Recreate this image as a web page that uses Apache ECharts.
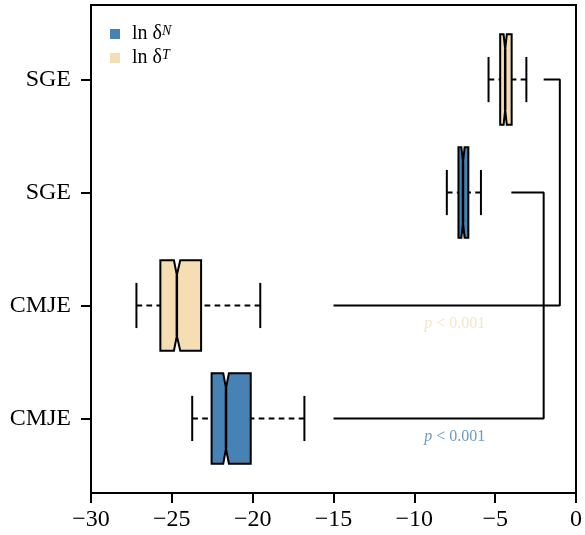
<!DOCTYPE html>
<html>
<head>
<meta charset="utf-8">
<script src="https://cdn.jsdelivr.net/npm/echarts@6/dist/echarts.min.js"></script>
<style>
html, body { margin: 0; padding: 0; background: #fff; }
#main { width: 585px; height: 535px; }
</style>
</head>
<body>
<div id="main"></div>
<script>
// rows from bottom (1) to top (4)
const rowLabels = ['CMJE', 'CMJE', 'SGE', 'SGE'];
const rowTicks = [1, 2, 3, 4];

// [row, lower whisker, Q1, median, Q3, upper whisker, notch low, notch high]
const statsN = [
  [1, -23.74, -22.54, -21.65, -20.12, -16.80, -21.82, -21.47],
  [3, -7.99, -7.27, -6.99, -6.66, -5.88, -7.09, -6.89]
];
const statsT = [
  [2, -27.19, -25.71, -24.69, -23.19, -19.53, -24.87, -24.48],
  [4, -5.41, -4.69, -4.38, -3.98, -3.07, -4.48, -4.28]
];

// comparison brackets [x, row]
const bracketN = [[-4, 3], [-2, 3], [-2, 1], [-15, 1]];
const bracketT = [[-2, 4], [-1, 4], [-1, 2], [-15, 2]];
const pText = ['p < 0.001', 'p < 0.001']; // N, T

const BLUE = '#4682B4';
const TAN = '#F5DEB3';
const FONT = '"Liberation Serif", "Times New Roman", serif';

function renderBox(params, api) {
  const row = api.value(0);
  const xs = [1, 2, 3, 4, 5, 6, 7].map(i => api.coord([api.value(i), row])[0]);
  const [xLow, xQ1, xMed, xQ3, xHigh, xN1, xN2] = xs;
  const cy = api.coord([0, row])[1];
  const halfH = api.size([0, 0.4])[1];
  const capH = api.size([0, 0.2])[1];
  const notch = halfH * 0.33;
  const top = cy - halfH, bot = cy + halfH;
  const dash = { stroke: '#000', lineWidth: 2, lineDash: [5.7, 4.3] };
  const solid = { stroke: '#000', lineWidth: 2 };
  return {
    type: 'group',
    children: [
      { type: 'line', shape: { x1: xLow, y1: cy, x2: xQ1, y2: cy }, style: dash },
      { type: 'line', shape: { x1: xHigh, y1: cy, x2: xQ3, y2: cy }, style: dash },
      { type: 'line', shape: { x1: xLow, y1: cy - capH, x2: xLow, y2: cy + capH }, style: solid },
      { type: 'line', shape: { x1: xHigh, y1: cy - capH, x2: xHigh, y2: cy + capH }, style: solid },
      {
        type: 'polygon',
        shape: {
          points: [
            [xQ1, top], [xN1, top], [xMed, top + notch], [xN2, top], [xQ3, top],
            [xQ3, bot], [xN2, bot], [xMed, bot - notch], [xN1, bot], [xQ1, bot]
          ]
        },
        style: { fill: api.visual('color'), stroke: '#000', lineWidth: 2 }
      },
      { type: 'line', shape: { x1: xMed, y1: top + notch, x2: xMed, y2: bot - notch }, style: { stroke: '#000', lineWidth: 2.5 } }
    ]
  };
}

function pLabel(bracket, text, color) {
  return {
    type: 'scatter',
    silent: true,
    symbolSize: 0,
    data: [[bracket[3][0] / 2, bracket[3][1] - 0.165]],
    label: {
      show: true,
      position: 'inside',
      formatter: '{i|p}{r|' + text.slice(1) + '}',
      rich: {
        i: { fontFamily: FONT, fontSize: 16, fontStyle: 'italic', color: color },
        r: { fontFamily: FONT, fontSize: 16, color: color }
      }
    }
  };
}

function bracketLine(data) {
  return {
    type: 'line',
    silent: true,
    showSymbol: false,
    symbol: 'none',
    data: data,
    lineStyle: { color: '#000', width: 2 },
    z: 1
  };
}

const chart = echarts.init(document.getElementById('main'));
chart.setOption({
  animation: false,
  grid: { left: 91, right: 6, top: 5, bottom: 42, show: true, borderColor: '#000', borderWidth: 2 },
  legend: {
    data: ['ln δN', 'ln δT'],
    orient: 'vertical',
    left: 105,
    top: 19,
    icon: 'rect',
    itemWidth: 10,
    itemHeight: 10,
    itemGap: 4,
    selectedMode: false,
    itemStyle: { borderWidth: 0 },
    formatter: name => '{b|ln δ}{s|' + name.slice(-1) + '}',
    textStyle: {
      fontFamily: FONT,
      fontSize: 20,
      color: '#000',
      padding: [0, 0, 0, 7],
      rich: {
        b: { fontFamily: FONT, fontSize: 20, lineHeight: 20, color: '#000' },
        s: { fontFamily: FONT, fontSize: 14, fontStyle: 'italic', verticalAlign: 'top', lineHeight: 13, color: '#000' }
      }
    }
  },
  xAxis: {
    type: 'value',
    min: -30,
    max: 0,
    interval: 5,
    splitLine: { show: false },
    axisLine: { show: true, onZero: false, lineStyle: { color: '#000', width: 2 } },
    axisTick: { show: true, length: 10, lineStyle: { color: '#000', width: 2 } },
    axisLabel: {
      fontFamily: FONT, fontSize: 24, color: '#000', margin: 15,
      showMinLabel: true, showMaxLabel: true,
      formatter: v => (v < 0 ? '\u2212' + (-v) : String(v))
    }
  },
  yAxis: {
    type: 'value',
    min: 0.34,
    max: 4.66,
    splitLine: { show: false },
    axisLine: { show: true, onZero: false, lineStyle: { color: '#000', width: 2 } },
    axisTick: { show: true, length: 10, customValues: rowTicks, lineStyle: { color: '#000', width: 2 } },
    axisLabel: {
      fontFamily: FONT, fontSize: 24, color: '#000', margin: 20,
      customValues: rowTicks,
      formatter: v => rowLabels[Math.round(v) - 1]
    }
  },
  series: [
    bracketLine(bracketN),
    bracketLine(bracketT),
    {
      name: 'ln δN',
      type: 'custom',
      renderItem: renderBox,
      itemStyle: { color: BLUE },
      encode: { x: [1, 2, 3, 4, 5], y: 0 },
      data: statsN,
      z: 3
    },
    {
      name: 'ln δT',
      type: 'custom',
      renderItem: renderBox,
      itemStyle: { color: TAN },
      encode: { x: [1, 2, 3, 4, 5], y: 0 },
      data: statsT,
      z: 3
    },
    pLabel(bracketT, pText[1], TAN),
    pLabel(bracketN, pText[0], BLUE)
  ]
});
</script>
</body>
</html>
